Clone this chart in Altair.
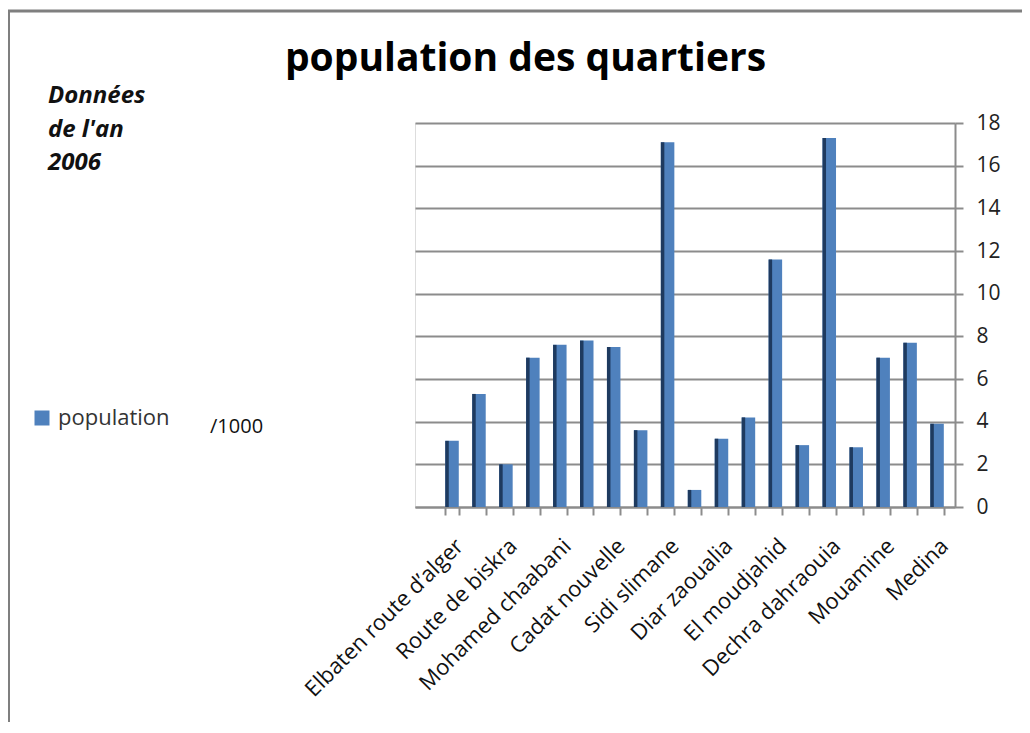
import json
import altair as alt
import pandas as pd

# ---- data ----
shown_labels = [
    "Elbaten route d’alger", "Route de biskra", "Mohamed chaabani",
    "Cadat nouvelle", "Sidi slimane", "Diar zaoualia", "El moudjahid",
    "Dechra dahraouia", "Mouamine", "Medina",
]
population = [3.1, 5.3, 2.0, 7.0, 7.6, 7.8, 7.5, 3.6, 17.1, 0.8,
              3.2, 4.2, 11.6, 2.9, 17.3, 2.8, 7.0, 7.7, 3.9]
series_name = "population"
title_text = "population des quartiers"
note_lines = ["Données", "de l'an", "2006"]
unit_text = "/1000"
y_ticks = list(range(0, 19, 2))

df = pd.DataFrame({
    "idx": list(range(len(population))),
    "value": population,
    "series": [series_name] * len(population),
})

# every second bar carries a visible label
label_array = []
for i in range(len(population)):
    label_array.append(shown_labels[i // 2] if i % 2 == 0 else "")
label_expr = json.dumps(label_array, ensure_ascii=False) + "[datum.value]"

FONT = "Open Sans"
BLUE = "#4f81bd"
DARK = "#1e3a5f"
GREY = "#8c8c8c"

W, H = 540, 384
PAD_L, PAD_T = 407, 115

xscale = alt.Scale(paddingInner=0.5, paddingOuter=0.77, align=0.73)
xenc = alt.X(
    "idx:O", scale=xscale, title=None,
    axis=alt.Axis(
        labelExpr=label_expr, labelAngle=315, labelFontSize=22, labelFont=FONT,
        labelColor="#111", labelPadding=20, tickBand="extent", tickColor=GREY,
        tickSize=8, tickWidth=2, domainColor=GREY, domainWidth=2, grid=False,
        labelOverlap=False, labelLimit=400,
    ),
)
yenc = alt.Y(
    "value:Q", scale=alt.Scale(domain=[0, 18], nice=False), title=None,
    axis=alt.Axis(
        orient="right", values=y_ticks, labelFontSize=21, labelFont=FONT,
        labelColor="#222", labelPadding=13, tickColor=GREY, tickSize=8,
        tickWidth=2, domainColor=GREY, domainWidth=2, gridColor=GREY,
        gridWidth=2, gridOpacity=1,
    ),
)

bars = alt.Chart(df).mark_bar(size=13.5).encode(
    x=xenc, y=yenc,
    color=alt.Color(
        "series:N", scale=alt.Scale(range=[BLUE]),
        legend=alt.Legend(
            orient="none", legendX=-384, legendY=284, title=None,
            symbolType="square", symbolSize=225, symbolStrokeWidth=0,
            labelFontSize=22, labelFont=FONT, labelColor="#333", labelOffset=5,
        ),
    ),
)

sides = alt.Chart(df).mark_bar(size=3.5, xOffset=-5, color=DARK).encode(
    x=alt.X("idx:O", scale=xscale), y="value:Q",
)

frame = alt.Chart(pd.DataFrame({"k": [0]})).mark_rect(
    filled=False, stroke="#7f7f7f", strokeWidth=3
).encode(
    x=alt.value(-PAD_L + 0.5), x2=alt.value(W + 200),
    y=alt.value(-PAD_T + 3), y2=alt.value(H + 400),
)

title = alt.Chart(pd.DataFrame({"t": [title_text]})).mark_text(
    align="center", baseline="alphabetic", font=FONT, fontSize=39,
    fontWeight="bold", color="#000",
).encode(text="t:N", x=alt.value(525.5 - 8 - PAD_L), y=alt.value(71 - 8 - PAD_T))

note = alt.Chart(pd.DataFrame({"t": ["\n".join(note_lines)]})).mark_text(
    align="left", baseline="alphabetic", font=FONT, fontSize=24,
    fontWeight="bold", fontStyle="italic", lineBreak="\n", lineHeight=33.5,
    color="#111",
).encode(text="t:N", x=alt.value(48 - 8 - PAD_L), y=alt.value(103 - 8 - PAD_T))

unit = alt.Chart(pd.DataFrame({"t": [unit_text]})).mark_text(
    align="left", baseline="alphabetic", font=FONT, fontSize=20, color="#111",
).encode(text="t:N", x=alt.value(210 - 8 - PAD_L), y=alt.value(433 - 8 - PAD_T))

chart = alt.layer(frame, bars, sides, title, note, unit).properties(
    width=W, height=H,
    autosize=alt.AutoSizeParams(type="none"),
    padding={"left": PAD_L, "top": PAD_T, "right": 67, "bottom": 215},
).configure_view(strokeWidth=0).configure(background="white")

chart.save("out.html", embed_options={"renderer": "svg", "actions": False})
